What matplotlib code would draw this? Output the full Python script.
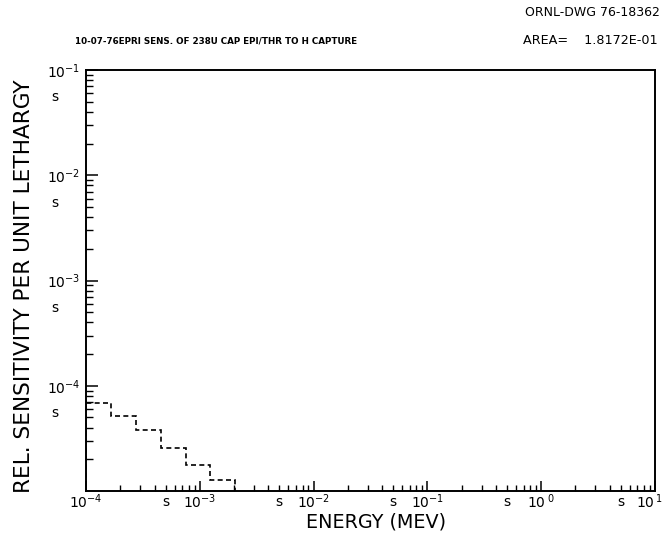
import matplotlib
matplotlib.use("Agg")
import matplotlib.pyplot as plt
from matplotlib.ticker import FixedLocator, NullFormatter
import matplotlib.transforms as mtrans

# ---- data ----
bin_edges = [1.0e-4, 1.65e-4, 2.75e-4, 4.6e-4, 7.5e-4, 1.22e-3, 2.03e-3]
sensitivity = [6.8e-5, 5.2e-5, 3.8e-5, 2.55e-5, 1.76e-5, 1.26e-5]

x_major = [1e-4, 1e-3, 1e-2, 1e-1, 1e0, 1e1]
x_major_labels = [r'$10^{-4}$', r'$10^{-3}$', r'$10^{-2}$', r'$10^{-1}$',
                  r'$10^{\ 0}$', r'$10^{\,1}$']
x_five = [5e-4, 5e-3, 5e-2, 5e-1, 5e0]
y_major = [1e-1, 1e-2, 1e-3, 1e-4]
y_major_labels = [r'$10^{-1}$', r'$10^{-2}$', r'$10^{-3}$', r'$10^{-4}$']
y_five = [5e-2, 5e-3, 5e-4, 5e-5]

title_left = "10-07-76EPRI SENS. OF 238U CAP EPI/THR TO H CAPTURE"
title_right = "AREA=    1.8172E-01"
dwg = "ORNL-DWG 76-18362"
xlabel = "ENERGY (MEV)"
ylabel = "REL. SENSITIVITY PER UNIT LETHARGY"

plt.rcParams['mathtext.fontset'] = 'dejavusans'
plt.rcParams['font.family'] = ['DejaVu Sans']

fig = plt.figure(figsize=(6.66, 5.35), dpi=100)
ax = fig.add_axes([86/666, 1-491/535, (655-86)/666, (491-70)/535])
ax.set_xscale('log')
ax.set_yscale('log')
ax.set_xlim(1e-4, 10)
ax.set_ylim(1e-5, 1e-1)

ax.stairs(sensitivity, bin_edges, baseline=1e-6, fill=False, color='black',
          linewidth=1.2, linestyle=(0, (3, 2)))

for s in ax.spines.values():
    s.set_linewidth(1.4)

ax.xaxis.set_major_locator(FixedLocator(x_major))
ax.set_xticklabels(x_major_labels)
ax.yaxis.set_major_locator(FixedLocator(y_major))
ax.set_yticklabels(y_major_labels)
minors_x = [m * 10.0**e for e in range(-4, 1) for m in range(2, 10)]
minors_y = [m * 10.0**e for e in range(-5, -1) for m in range(2, 10)]
ax.xaxis.set_minor_locator(FixedLocator(minors_x))
ax.yaxis.set_minor_locator(FixedLocator(minors_y))
ax.xaxis.set_minor_formatter(NullFormatter())
ax.yaxis.set_minor_formatter(NullFormatter())
ax.tick_params(axis='y', which='major', direction='in', length=8.5, width=1.1,
               labelsize=10, pad=4)
ax.tick_params(axis='y', which='minor', direction='in', length=5.3, width=1.0)
ax.tick_params(axis='x', which='major', direction='in', length=7.5, width=1.1,
               labelsize=10, pad=1)
ax.tick_params(axis='x', which='minor', direction='in', length=4.5, width=1.0)

# keep the last x label inside the figure (right-aligned, slightly shifted)
last = ax.get_xticklabels()[-1]
last.set_horizontalalignment('right')
last.set_transform(last.get_transform() +
                   mtrans.ScaledTranslation(8/100, 0, fig.dpi_scale_trans))

# "s" (five) labels
tx = mtrans.blended_transform_factory(ax.transData, ax.transAxes)
for v in x_five:
    ax.text(v, -0.027, 's', transform=tx, ha='center', va='center',
            fontsize=10)
ty = mtrans.blended_transform_factory(ax.transAxes, ax.transData)
for v in y_five:
    ax.text(-0.055, v * 1.1, 's', transform=ty, ha='center', va='center',
            fontsize=10)

ax.set_xlabel(xlabel, fontsize=13.8)
ax.xaxis.set_label_coords(0.51, -0.05)
ax.set_ylabel(ylabel, fontsize=15.6)
ax.yaxis.set_label_coords(-0.092, 0.487)

fig.text(660/666, 1-13/535, dwg, ha='right', va='center', fontsize=9)
fig.text(75/666, 1-41/535, title_left, ha='left', va='center',
         fontsize=6.3, fontweight='bold')
fig.text(658/666, 1-41/535, title_right, ha='right', va='center',
         fontsize=9.2)

fig.savefig('out.png', dpi=100)
